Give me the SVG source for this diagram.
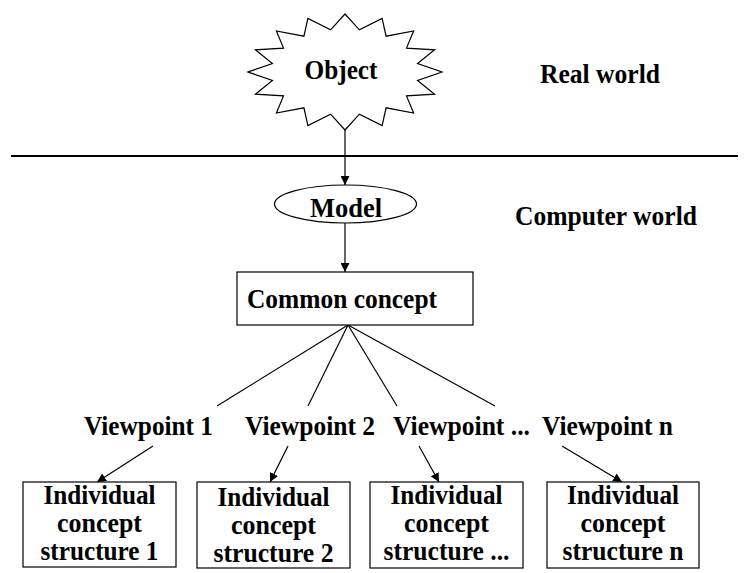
<svg xmlns="http://www.w3.org/2000/svg" width="746" height="573" viewBox="0 0 746 573">
<defs>
<style>
text{font-family:"Liberation Serif","Times New Roman",serif;font-weight:bold;font-size:27px;fill:#000}
.c{text-anchor:middle}
.s{fill:#fff;stroke:#000;stroke-width:1.2}
.l{stroke:#000;stroke-width:1.2;fill:none}
</style>
<marker id="ah" viewBox="0 0 10 10" refX="10" refY="5" markerWidth="9" markerHeight="9" markerUnits="userSpaceOnUse" orient="auto">
<path d="M0,0 L10,5 L0,10 z" fill="#000"/>
</marker>
</defs>
<rect width="746" height="573" fill="#fff"/>
<line x1="11" y1="156" x2="738" y2="156" stroke="#000" stroke-width="2"/>
<g id="connectors">
<line class="l" x1="345" y1="130" x2="345" y2="185" marker-end="url(#ah)"/>
<line class="l" x1="345" y1="223" x2="345" y2="272" marker-end="url(#ah)"/>
<line class="l" x1="348" y1="325" x2="217" y2="406"/>
<line class="l" x1="348" y1="325" x2="308" y2="406"/>
<line class="l" x1="348" y1="325" x2="397" y2="406"/>
<line class="l" x1="348" y1="325" x2="495" y2="406"/>
<line class="l" x1="153" y1="446" x2="97" y2="482" marker-end="url(#ah)"/>
<line class="l" x1="288" y1="446" x2="270" y2="482" marker-end="url(#ah)"/>
<line class="l" x1="419" y1="446" x2="439" y2="482" marker-end="url(#ah)"/>
<line class="l" x1="562" y1="446" x2="622" y2="482" marker-end="url(#ah)"/>
</g>
<g id="object">
<polygon class="s" points="345,14 359.4,29.8 382.1,18.4 386.1,36.2 413.6,31 406.5,48.1 434.6,49.8 417.6,63.6 442,72 417.6,80.4 434.6,94.2 406.5,95.9 413.6,113 386.1,107.8 382.1,125.6 359.4,114.2 345,130 330.6,114.2 307.9,125.6 303.9,107.8 276.4,113 283.5,95.9 255.4,94.2 272.4,80.4 248,72 272.4,63.6 255.4,49.8 283.5,48.1 276.4,31 303.9,36.2 307.9,18.4 330.6,29.8"/>
<text class="c" x="341" y="79" textLength="73" lengthAdjust="spacingAndGlyphs">Object</text>
</g>
<g id="real-world"><text x="540" y="83" textLength="120" lengthAdjust="spacingAndGlyphs">Real world</text></g>
<g id="computer-world"><text x="515" y="225" textLength="182" lengthAdjust="spacingAndGlyphs">Computer world</text></g>
<g id="model">
<ellipse class="s" cx="345.5" cy="204" rx="71" ry="19"/>
<text class="c" x="346" y="217" textLength="72" lengthAdjust="spacingAndGlyphs">Model</text>
</g>
<g id="common-concept">
<rect class="s" x="237" y="272" width="236" height="53"/>
<text x="247" y="308" textLength="190" lengthAdjust="spacingAndGlyphs">Common concept</text>
</g>
<g id="vp1"><text x="84" y="435" textLength="129" lengthAdjust="spacingAndGlyphs">Viewpoint 1</text></g>
<g id="vp2"><text x="245" y="435" textLength="130" lengthAdjust="spacingAndGlyphs">Viewpoint 2</text></g>
<g id="vp3"><text x="393" y="435" textLength="137" lengthAdjust="spacingAndGlyphs">Viewpoint ...</text></g>
<g id="vpn"><text x="542" y="435" textLength="131" lengthAdjust="spacingAndGlyphs">Viewpoint n</text></g>
<g id="ics1">
<rect class="s" x="23" y="482" width="153" height="85"/>
<text class="c" x="99.5" y="504" textLength="112" lengthAdjust="spacingAndGlyphs">Individual</text>
<text class="c" x="99.5" y="532" textLength="85" lengthAdjust="spacingAndGlyphs">concept</text>
<text class="c" x="99.5" y="560" textLength="118" lengthAdjust="spacingAndGlyphs">structure 1</text>
</g>
<g id="ics2">
<rect class="s" x="197" y="482" width="153" height="86"/>
<text class="c" x="273.5" y="506" textLength="112" lengthAdjust="spacingAndGlyphs">Individual</text>
<text class="c" x="273.5" y="534" textLength="85" lengthAdjust="spacingAndGlyphs">concept</text>
<text class="c" x="273.5" y="562" textLength="120" lengthAdjust="spacingAndGlyphs">structure 2</text>
</g>
<g id="ics3">
<rect class="s" x="370" y="482" width="153" height="86"/>
<text class="c" x="446.5" y="504" textLength="112" lengthAdjust="spacingAndGlyphs">Individual</text>
<text class="c" x="446.5" y="532" textLength="85" lengthAdjust="spacingAndGlyphs">concept</text>
<text class="c" x="446.5" y="560" textLength="126" lengthAdjust="spacingAndGlyphs">structure ...</text>
</g>
<g id="icsn">
<rect class="s" x="547" y="482" width="152" height="86"/>
<text class="c" x="623" y="504" textLength="112" lengthAdjust="spacingAndGlyphs">Individual</text>
<text class="c" x="623" y="532" textLength="85" lengthAdjust="spacingAndGlyphs">concept</text>
<text class="c" x="623" y="560" textLength="121" lengthAdjust="spacingAndGlyphs">structure n</text>
</g>
</svg>
